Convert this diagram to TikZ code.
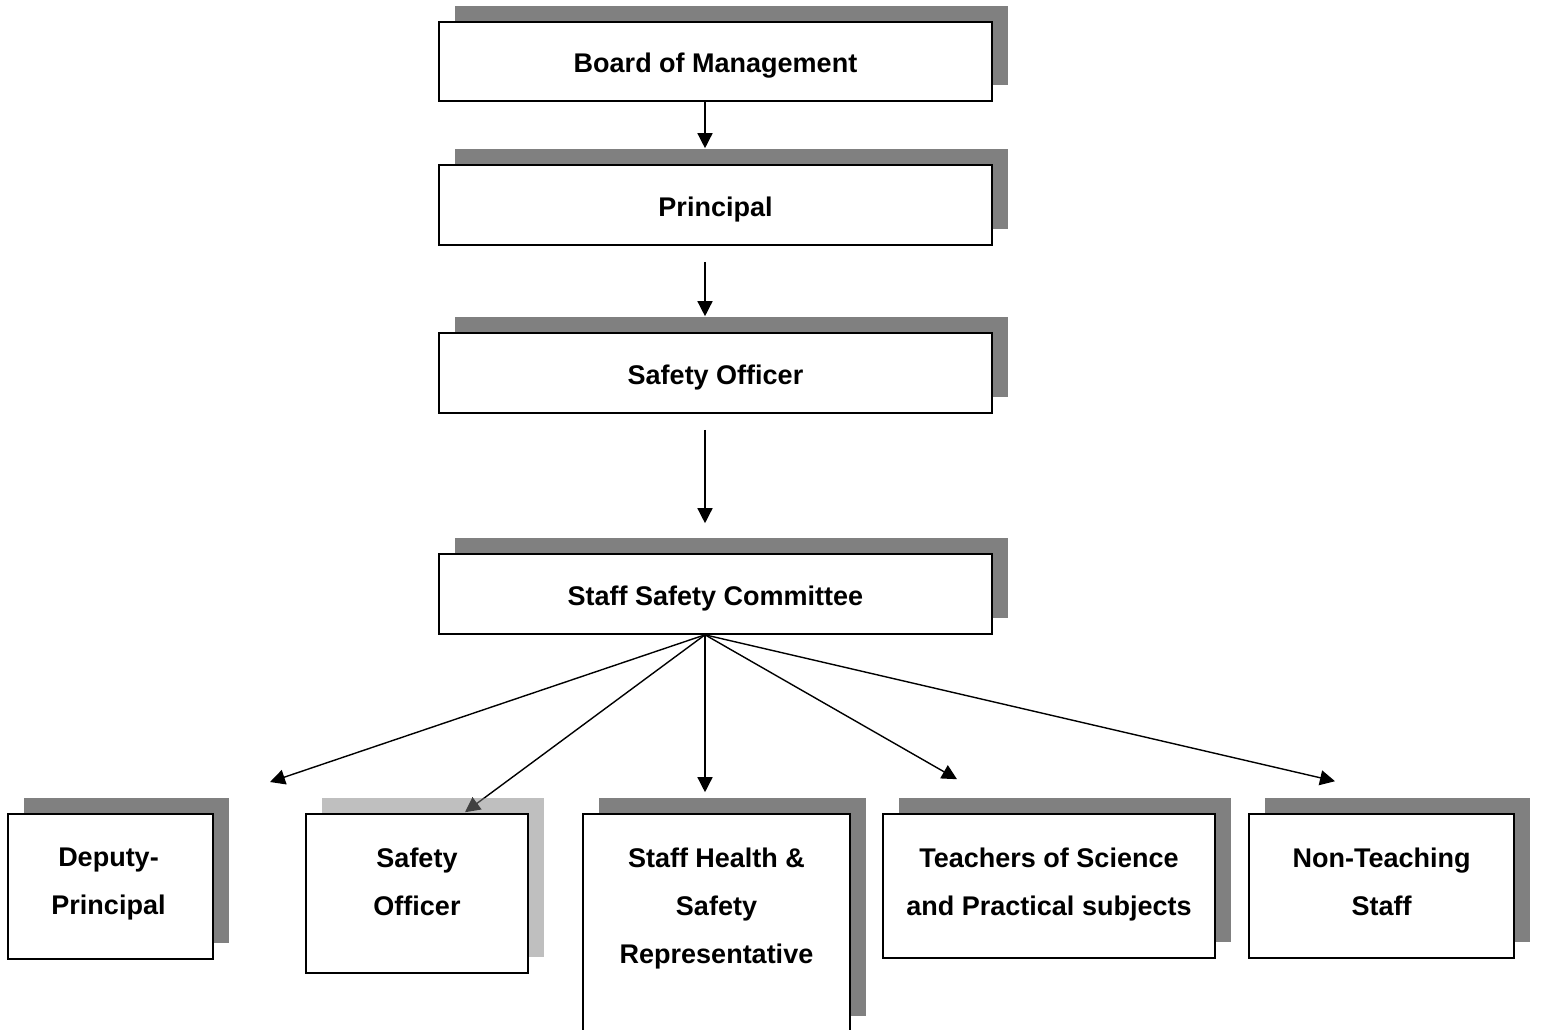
\documentclass[tikz,border=0pt]{standalone}
\usepackage{fontspec}
\setmainfont{Liberation Sans}
\usetikzlibrary{arrows.meta,shadows,backgrounds}

\tikzset{
  boxbase/.style={draw=black, line width=1.6pt, fill=white, inner sep=0pt},
  orgbox/.style={boxbase,
    drop shadow={shadow xshift=16pt, shadow yshift=16pt, fill=black!50, opacity=1}},
  paleorgbox/.style={boxbase,
    drop shadow={shadow xshift=16pt, shadow yshift=16pt, fill=black!50, opacity=.5}},
  titlebox/.style={orgbox, minimum width=553pt, minimum height=80pt, text height=28pt, text depth=6pt},
  boxtext/.style={anchor=north, align=center, inner sep=0pt, yshift=-35pt},
  link/.style={line width=1.4pt, -{Triangle[length=15pt,width=15pt]}}
}

\begin{document}
\begin{tikzpicture}[x=1pt, y=-1pt, font=\fontsize{27}{48}\selectfont\bfseries]
  \useasboundingbox (0,0) rectangle (1541,1029);

  % chain of command
  \node[titlebox, minimum height=79pt] (board) at (715.5,61.5) {Board of Management};
  \node[titlebox] (principal) at (715.5,205) {Principal};
  \node[titlebox] (officer) at (715.5,373) {Safety Officer};
  \node[titlebox] (committee) at (715.5,594) {Staff Safety Committee};

  % committee members
  \node[orgbox, minimum width=205pt, minimum height=145pt] (deputy) at (110.5,886.5) {};
  \node[paleorgbox, minimum width=222pt, minimum height=159pt] (safetyofficer) at (417,893.5) {};
  \node[orgbox, minimum width=267pt, minimum height=218pt] (healthrep) at (716.5,923) {};
  \node[orgbox, minimum width=332pt, minimum height=144pt] (teachers) at (1049,886) {};
  \node[orgbox, minimum width=265pt, minimum height=144pt] (nonteaching) at (1381.5,886) {};

  \node[boxtext, xshift=-2pt] (deputy-txt) at (deputy.north) {Deputy-\\Principal};
  \node[boxtext] (safetyofficer-txt) at (safetyofficer.north) {Safety\\Officer};
  \node[boxtext] (healthrep-txt) at (healthrep.north) {Staff Health \&\\Safety\\Representative};
  \node[boxtext] (teachers-txt) at (teachers.north) {Teachers of Science\\and Practical subjects};
  \node[boxtext] (nonteaching-txt) at (nonteaching.north) {Non-Teaching\\Staff};

  \coordinate (deputytip) at (270,782);

  \draw[link] ([xshift=-10.5pt]board.south) -- ([xshift=-10.5pt,yshift=16pt]principal.north);
  \draw[link] ([xshift=-10.5pt,yshift=-16pt]principal.south) -- ([xshift=-10.5pt,yshift=16pt]officer.north);
  \draw[link] ([xshift=-10.5pt,yshift=-16pt]officer.south) -- ([xshift=-10.5pt,yshift=30pt]committee.north);

  % fan out from the committee
  \draw[link] ([xshift=-10.5pt]committee.south) -- (deputytip);
  \draw[link] ([xshift=-10.5pt]committee.south) -- ([xshift=-11.5pt,yshift=21pt]healthrep.north);
  \draw[link] ([xshift=-10.5pt]committee.south) -- ([xshift=-92pt,yshift=34pt]teachers.north);
  \draw[link] ([xshift=-10.5pt]committee.south) -- ([xshift=-46.5pt,yshift=32pt]nonteaching.north);
  % this one runs under the pale shadow
  \begin{scope}[on background layer]
    \draw[link] ([xshift=-10.5pt]committee.south) -- ([xshift=48pt,yshift=1pt]safetyofficer.north);
  \end{scope}
\end{tikzpicture}
\end{document}
